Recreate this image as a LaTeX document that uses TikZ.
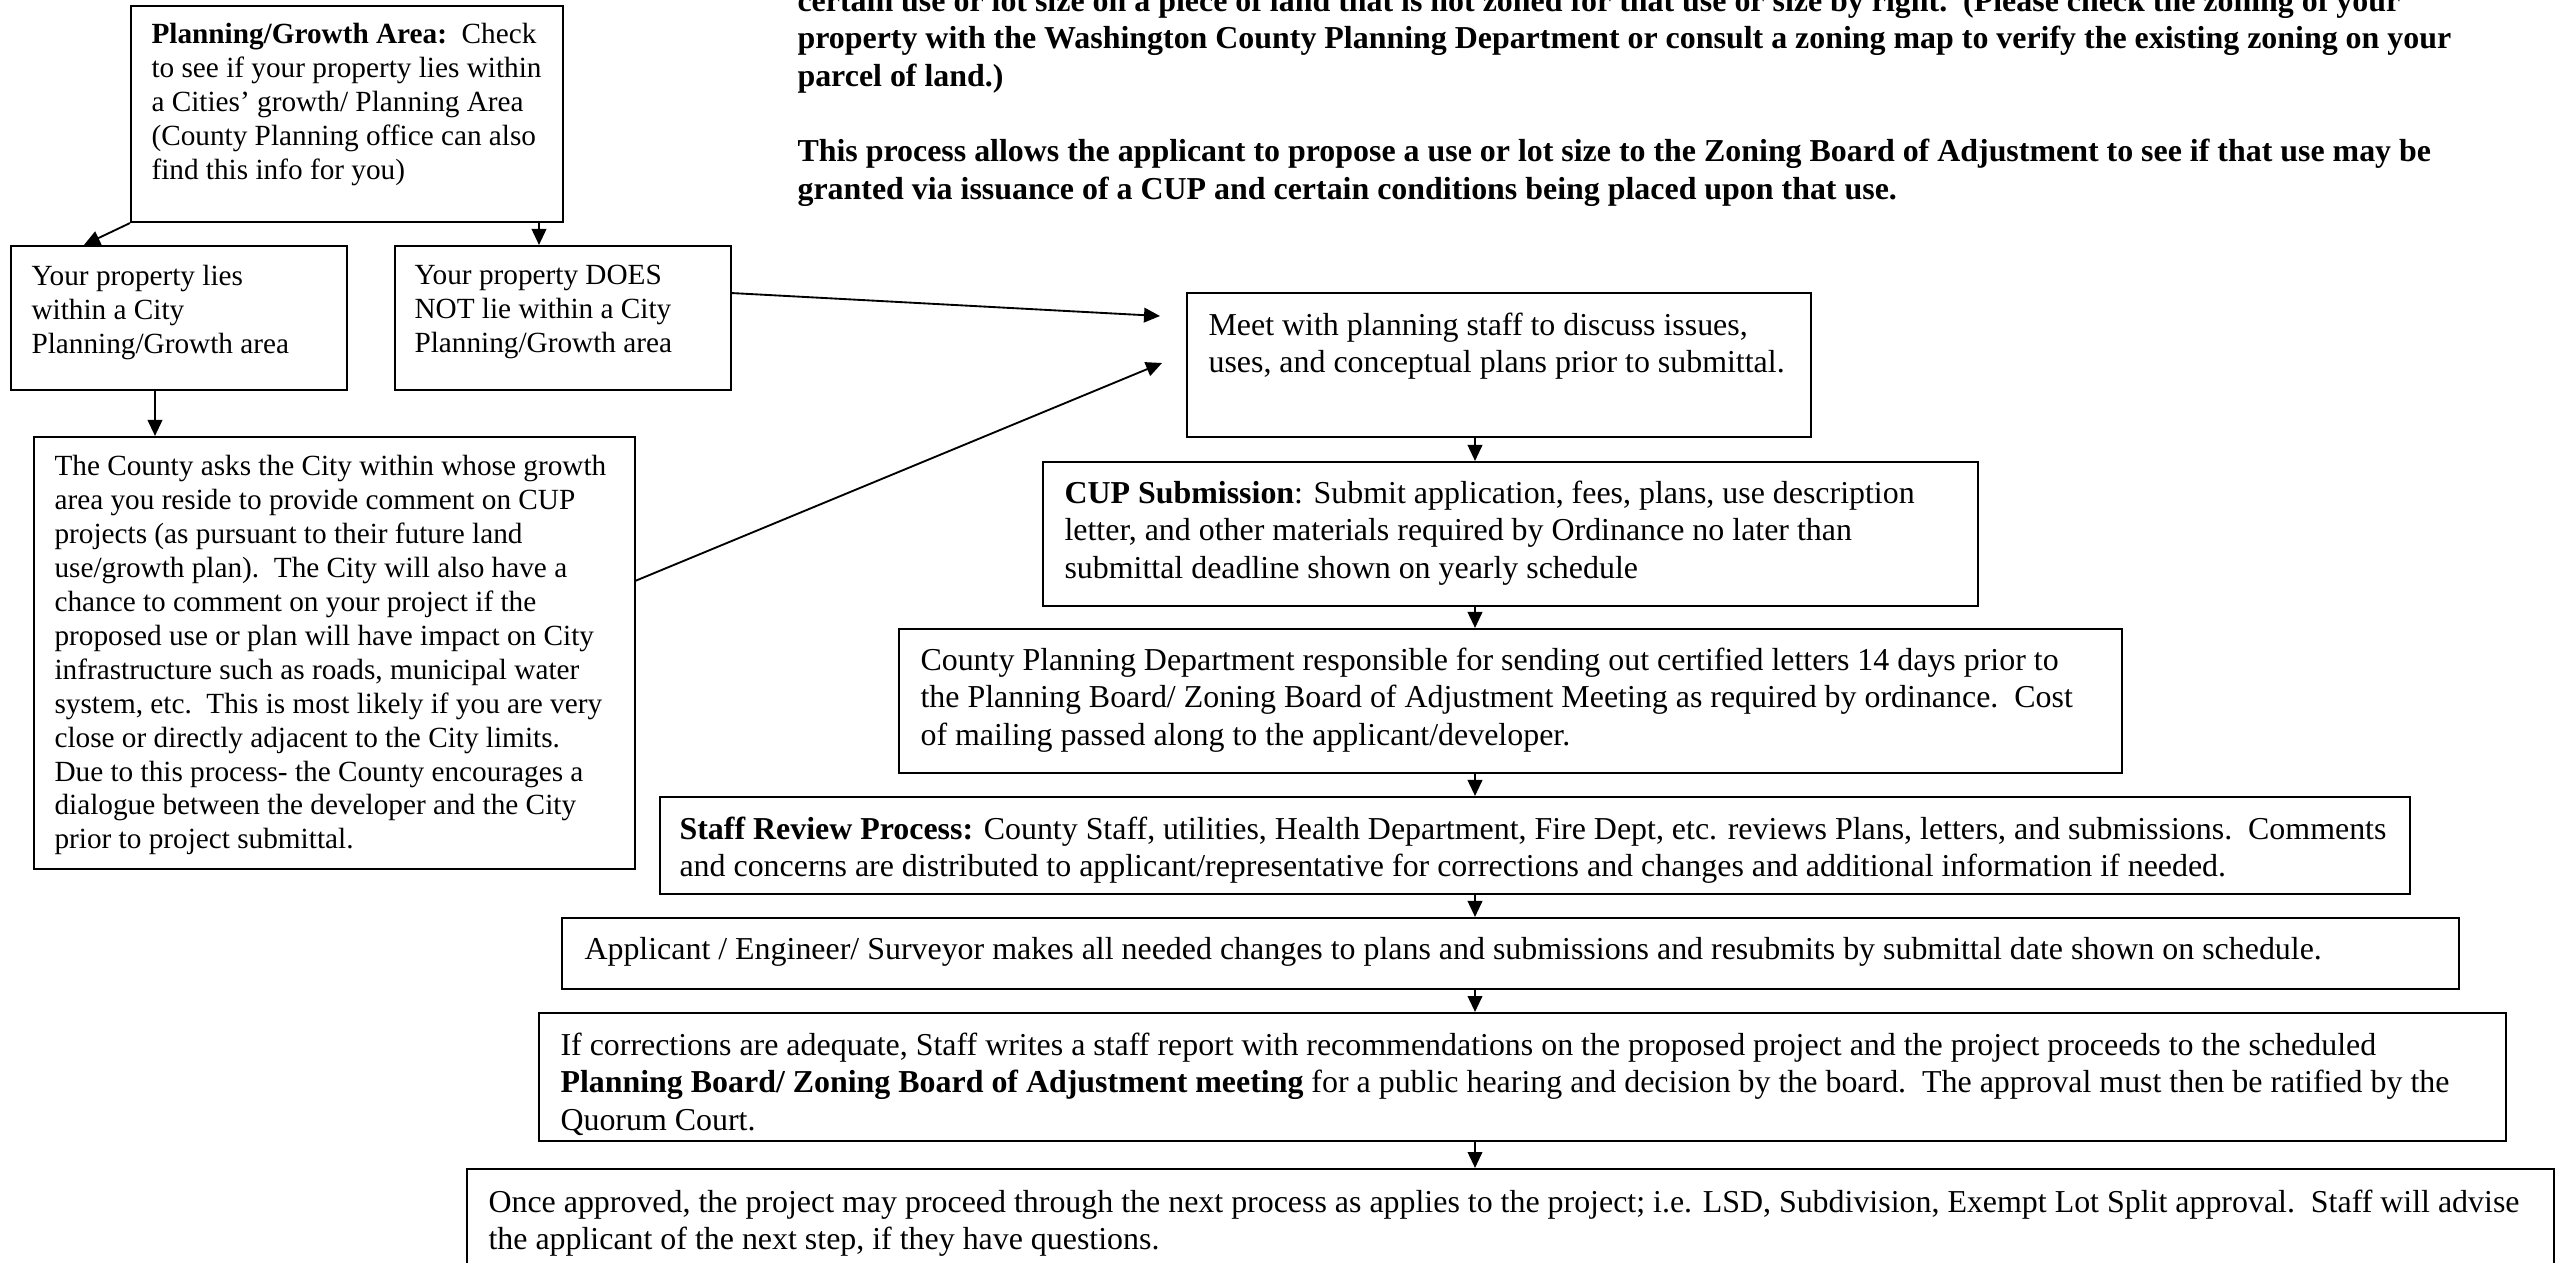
\documentclass[tikz,border=0pt]{standalone}
\usepackage{fontspec}
\setmainfont{Liberation Serif}
\usetikzlibrary{arrows.meta,fit}
\begin{document}
\begin{tikzpicture}[x=0.376pt,y=-0.376pt,
  box/.style={draw, line width=0.8pt, inner sep=0pt},
  txt/.style={anchor=north west, inner sep=0pt, align=left, font=\fontsize{12}{14.14}\selectfont},
  stxt/.style={anchor=north west, inner sep=0pt, align=left, font=\fontsize{11}{12.75}\selectfont},
  arr/.style={-{Triangle[length=6pt,width=5.5pt]}, line width=0.7pt}]
\useasboundingbox (0,0) rectangle (2567,1262);

% top text
\node[txt, font=\fontsize{12}{14.14}\selectfont\bfseries] (intro) at (797,-12) {certain use or lot size on a piece of land that is not zoned for that use or size by right.\ \ (Please check the zoning of your\\
property with the Washington County Planning Department or consult a zoning map to verify the existing zoning on your\\
parcel of land.)\\[14.14pt]
This process allows the applicant to propose a use or lot size to the Zoning Board of Adjustment to see if that use may be\\
granted via issuance of a CUP and certain conditions being placed upon that use.};

% left column
\node[box, fit={(131,6) (563,222)}] (plan) {};
\node[stxt] (plant) at (151,23) {\textbf{Planning/Growth Area:}\ \ Check\\
to see if your property lies within\\
a Cities’ growth/ Planning Area\\
(County Planning office can also\\
find this info for you)};

\node[box, fit={(11,246) (347,390)}] (lbox) {};
\node[stxt] (lboxt) at (31,265) {Your property lies\\
within a City\\
Planning/Growth area};

\node[box, fit={(395,246) (731,390)}] (rbox) {};
\node[stxt] (rboxt) at (414,265) {Your property DOES\\
NOT lie within a City\\
Planning/Growth area};

\node[box, fit={(34,437) (635,869)}] (cty) {};
\node[stxt] (ctyt) at (54,455) {The County asks the City within whose growth\\
area you reside to provide comment on CUP\\
projects (as pursuant to their future land\\
use/growth plan).\ \ The City will also have a\\
chance to comment on your project if the\\
proposed use or plan will have impact on City\\
infrastructure such as roads, municipal water\\
system, etc.\ \ This is most likely if you are very\\
close or directly adjacent to the City limits.\\
Due to this process- the County encourages a\\
dialogue between the developer and the City\\
prior to project submittal.};

% main column
\node[box, fit={(1187,293) (1811,437)}] (meet) {};
\node[txt] (meett) at (1208,312) {Meet with planning staff to discuss issues,\\
uses, and conceptual plans prior to submittal.};

\node[box, fit={(1043,462) (1978,606)}] (cup) {};
\node[txt] (cupt) at (1064,480) {\textbf{CUP Submission}: Submit application, fees, plans, use description\\
letter, and other materials required by Ordinance no later than\\
submittal deadline shown on yearly schedule};

\node[box, fit={(899,629) (2122,773)}] (cpd) {};
\node[txt] (cpdt) at (920,647) {County Planning Department responsible for sending out certified letters 14 days prior to\\
the Planning Board/ Zoning Board of Adjustment Meeting as required by ordinance.\ \ Cost\\
of mailing passed along to the applicant/developer.};

\node[box, fit={(660,797) (2410,894)}] (staff) {};
\node[txt] (stafft) at (679,816) {\textbf{Staff Review Process:} County Staff, utilities, Health Department, Fire Dept, etc. reviews Plans, letters, and submissions.\ \ Comments\\
and concerns are distributed to applicant/representative for corrections and changes and additional information if needed.};

\node[box, fit={(562,918) (2459,989)}] (app) {};
\node[txt] (appt) at (584,937) {Applicant / Engineer/ Surveyor makes all needed changes to plans and submissions and resubmits by submittal date shown on schedule.};

\node[box, fit={(539,1013) (2506,1141)}] (corr) {};
\node[txt] (corrt) at (560,1032) {If corrections are adequate, Staff writes a staff report with recommendations on the proposed project and the project proceeds to the scheduled\\
\textbf{Planning Board/ Zoning Board of Adjustment meeting} for a public hearing and decision by the board.\ \ The approval must then be ratified by the\\
Quorum Court.};

\node[box, fit={(467,1169) (2554,1300)}] (once) {};
\node[txt] (oncet) at (488,1189) {Once approved, the project may proceed through the next process as applies to the project; i.e. LSD, Subdivision, Exempt Lot Split approval.\ \ Staff will advise\\
the applicant of the next step, if they have questions.};

% connectors
\coordinate (la) at (84,0);
\coordinate (ra) at (539,0);
\coordinate (lc) at (155,0);
\coordinate (ax) at (1475,0);
\coordinate (rs) at (731,293);
\coordinate (re) at (1160,316);
\coordinate (cs) at (635,581);
\coordinate (ce) at (1162,363);

\draw[arr] (plan.south west) -- (la |- lbox.north);
\draw[arr] (ra |- plan.south) -- (ra |- rbox.north);
\draw[arr] (lc |- lbox.south) -- (lc |- cty.north);
\draw[arr] (rs) -- (re);
\draw[arr] (cs) -- (ce);
\draw[arr] (ax |- meet.south) -- (ax |- cup.north);
\draw[arr] (ax |- cup.south) -- (ax |- cpd.north);
\draw[arr] (ax |- cpd.south) -- (ax |- staff.north);
\draw[arr] (ax |- staff.south) -- (ax |- app.north);
\draw[arr] (ax |- app.south) -- (ax |- corr.north);
\draw[arr] (ax |- corr.south) -- (ax |- once.north);
\end{tikzpicture}
\end{document}
